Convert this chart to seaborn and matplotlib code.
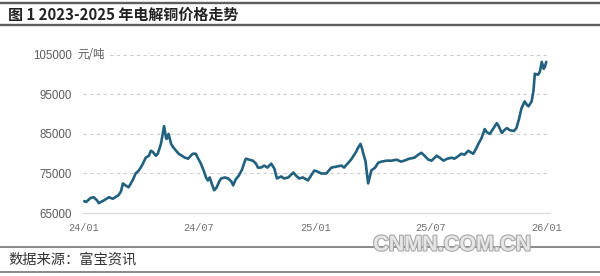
import matplotlib
matplotlib.use("Agg")
import matplotlib.pyplot as plt
import matplotlib.patheffects as pe
import pandas as pd
import seaborn as sns

dates = [
    "2024-01-02", "2024-01-05", "2024-01-12", "2024-01-17", "2024-01-22", "2024-01-25",
    "2024-02-02", "2024-02-10", "2024-02-16", "2024-02-25", "2024-02-29", "2024-03-03",
    "2024-03-07", "2024-03-12", "2024-03-19", "2024-03-23", "2024-03-28", "2024-04-02",
    "2024-04-08", "2024-04-13", "2024-04-16", "2024-04-19", "2024-04-24", "2024-04-27",
    "2024-05-02", "2024-05-07", "2024-05-10", "2024-05-11", "2024-05-14", "2024-05-18",
    "2024-05-22", "2024-05-26", "2024-05-30", "2024-06-04", "2024-06-09", "2024-06-14",
    "2024-06-18", "2024-06-21", "2024-06-26", "2024-06-29", "2024-07-04", "2024-07-09",
    "2024-07-12", "2024-07-15", "2024-07-18", "2024-07-21", "2024-07-25", "2024-07-29",
    "2024-08-02", "2024-08-05", "2024-08-11", "2024-08-16", "2024-08-21", "2024-08-24",
    "2024-08-28", "2024-09-02", "2024-09-07", "2024-09-10", "2024-09-13", "2024-09-18",
    "2024-09-24", "2024-09-29", "2024-10-02", "2024-10-07", "2024-10-12", "2024-10-17",
    "2024-10-23", "2024-10-28", "2024-11-01", "2024-11-08", "2024-11-12", "2024-11-19",
    "2024-11-27", "2024-12-01", "2024-12-06", "2024-12-12", "2024-12-20", "2024-12-25",
    "2024-12-30", "2025-01-04", "2025-01-10", "2025-01-18", "2025-01-26", "2025-02-03",
    "2025-02-11", "2025-02-15", "2025-02-22", "2025-02-26", "2025-03-02", "2025-03-06",
    "2025-03-09", "2025-03-13", "2025-03-16", "2025-03-17", "2025-03-21", "2025-03-22",
    "2025-03-25", "2025-03-28", "2025-03-30", "2025-04-05", "2025-04-10", "2025-04-15",
    "2025-04-23", "2025-05-01", "2025-05-09", "2025-05-16", "2025-05-21", "2025-05-29",
    "2025-06-06", "2025-06-12", "2025-06-17", "2025-06-22", "2025-06-28", "2025-07-03",
    "2025-07-08", "2025-07-11", "2025-07-16", "2025-07-22", "2025-07-28", "2025-08-04",
    "2025-08-08", "2025-08-13", "2025-08-19", "2025-08-24", "2025-08-30", "2025-09-04",
    "2025-09-07", "2025-09-12", "2025-09-15", "2025-09-20", "2025-09-25", "2025-09-28",
    "2025-10-03", "2025-10-07", "2025-10-14", "2025-10-17", "2025-10-22", "2025-10-26",
    "2025-10-30", "2025-11-03", "2025-11-10", "2025-11-14", "2025-11-18", "2025-11-22",
    "2025-11-27", "2025-11-30", "2025-12-03", "2025-12-08", "2025-12-11", "2025-12-13",
    "2025-12-18", "2025-12-21", "2025-12-24", "2025-12-27", "2025-12-29", "2025-12-31",
]
prices = [
    68000, 67800, 68800, 69000, 68200, 67500,
    68200, 69000, 68600, 69500, 70500, 72500,
    72000, 71500, 73500, 75000, 75750, 77000,
    79000, 79500, 80750, 80500, 79500, 80000,
    82500, 87000, 84000, 83750, 85000, 82500,
    81500, 80750, 80000, 79500, 79000, 78750,
    79500, 80000, 80000, 79000, 77500, 75500,
    74000, 73250, 74000, 72500, 70750, 71500,
    73000, 73750, 74000, 73750, 73000, 72000,
    73500, 74500, 76000, 77500, 78750, 78500,
    78250, 77500, 76500, 76500, 77000, 76500,
    77500, 76250, 73750, 74250, 73750, 74000,
    75250, 74500, 73750, 74000, 73250, 74500,
    75750, 75500, 75000, 75000, 76500, 76750,
    77000, 76500, 77750, 78500, 79500, 80500,
    81500, 82500, 81000, 80250, 78000, 76500,
    72500, 74500, 75750, 76500, 77750, 78000,
    78250, 78250, 78500, 78000, 78250, 78750,
    79000, 79750, 80250, 79500, 78500, 78250,
    79000, 79500, 79000, 78250, 78750, 79000,
    78750, 79250, 80000, 79750, 80750, 80250,
    80000, 81500, 82500, 84000, 86250, 85500,
    85000, 86000, 87750, 87000, 85250, 86000,
    86500, 86000, 85750, 86500, 88750, 91500,
    93250, 92500, 92000, 93250, 96000, 100250,
    100000, 100750, 103250, 101500, 102000, 103250,
]
y_ticks = [65000, 75000, 85000, 95000, 105000]
x_ticks = ["2024-01-01", "2024-07-01", "2025-01-01", "2025-07-01", "2026-01-01"]
x_tick_labels = ["24/01", "24/07", "25/01", "25/07", "26/01"]
title = "图 1 2023-2025 年电解铜价格走势"
unit = "元/吨"
source = "数据来源：富宝资讯"
watermark = "CNMN.COM.CN"

df = pd.DataFrame({"date": pd.to_datetime(dates), "price": prices})

sns.set_theme(style="white")
plt.rcParams["font.family"] = ["Noto Sans CJK SC", "DejaVu Sans"]

fig = plt.figure(figsize=(6.0, 2.76), dpi=100)
ax = fig.add_axes([83 / 600, 1 - 213 / 276, (550 - 83) / 600, (213 - 55) / 276])

sns.lineplot(data=df, x="date", y="price", ax=ax, color="#21607f", linewidth=1.9)

ax.set_xlim(pd.Timestamp("2023-12-31"), pd.Timestamp("2026-01-06"))
ax.set_ylim(65000, 105000)
ax.set_yticks(y_ticks)
ax.set_yticklabels([str(v) for v in y_ticks], family="Liberation Sans",
                   fontsize=8.3, color="#5a5a5a")
ax.set_xticks(pd.to_datetime(x_ticks))
ax.set_xticklabels(x_tick_labels, family="Liberation Mono", fontsize=7.4, color="#707070")
ax.tick_params(axis="y", length=0, pad=8)
ax.tick_params(axis="x", length=0, pad=7)
ax.set_xlabel("")
ax.set_ylabel("")

for s in ["top", "right", "left"]:
    ax.spines[s].set_visible(False)
ax.spines["bottom"].set_color("#d9d9d9")
ax.spines["bottom"].set_linewidth(0.9)
for v in y_ticks[1:]:
    ax.axhline(v, color="#cccccc", linewidth=0.8, linestyle=(0, (3, 3)), zorder=0)

ax.text(-0.012, 105000, unit, transform=ax.get_yaxis_transform(), ha="left", va="center",
        fontsize=8.3, color="#5a5a5a",
        bbox=dict(facecolor="white", edgecolor="none", pad=1.5), zorder=5)

# title band
fig.add_artist(plt.Line2D([0, 1], [1 - 3 / 276, 1 - 3 / 276], color="#5e5e5e", linewidth=1.7))
fig.add_artist(plt.Line2D([0, 1], [1 - 25 / 276, 1 - 25 / 276], color="#5e5e5e", linewidth=1.7))
fig.text(8 / 600, 1 - 14.5 / 276, title, fontsize=10.8, fontweight="bold", color="#222222",
         ha="left", va="center")

# footer band
fig.add_artist(plt.Line2D([0, 1], [1 - 246.5 / 276, 1 - 246.5 / 276], color="#6a6a6a", linewidth=1.1))
fig.add_artist(plt.Line2D([0, 1], [1 - 271.5 / 276, 1 - 271.5 / 276], color="#6a6a6a", linewidth=1.1))
fig.text(8 / 600, 1 - 259.5 / 276, source, fontsize=10.3, color="#333333", ha="left", va="center")
fig.text(452 / 600, 1 - 245 / 276, watermark, family="Liberation Sans", fontsize=15.5,
         fontweight="bold", color="#e6e6e6", ha="center", va="center",
         path_effects=[pe.withStroke(linewidth=1.6, foreground="#a8a8a8")])

fig.savefig("out.png", dpi=100)
